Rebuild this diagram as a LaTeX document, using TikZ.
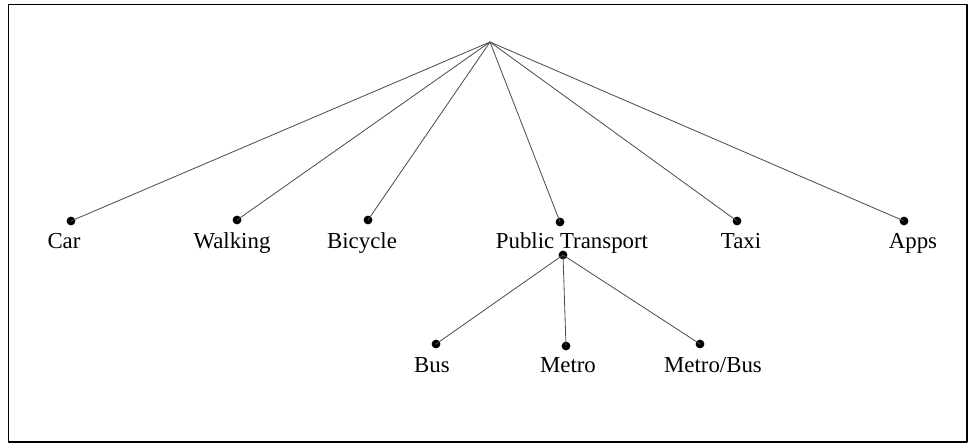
\documentclass[tikz,border=0pt]{standalone}
\usepackage{fontspec}
\setmainfont{Liberation Serif}

\begin{document}
\begin{tikzpicture}[x=0.03cm,y=-0.03cm,line join=round,line cap=round,
	dot/.style={circle,fill=black,inner sep=0pt,minimum size=7.5pt},
	lbl/.style={anchor=base,inner sep=0pt,font=\fontsize{19.5}{23}\selectfont},
	edge/.style={draw=black!70,line width=0.7pt}]
	\useasboundingbox (0,0) rectangle (968,444);
	\draw[line width=1.7pt] (8.5,4.5) rectangle (966.5,441.5);
	% root and first level
	\coordinate (root) at (490,42);
	\node[dot] (car) at (71,221) {};
	\node[dot] (walk) at (237,220) {};
	\node[dot] (bike) at (368,220) {};
	\node[dot] (pt) at (560,222) {};
	\node[dot] (taxi) at (737,221) {};
	\node[dot] (apps) at (904,221) {};
	\node[lbl] (carl) at (64,248) {Car};
	\node[lbl] (walkl) at (232,248) {Walking};
	\node[lbl] (bikel) at (362,248) {Bicycle};
	\node[lbl] (ptl) at (572,248) {Public Transport};
	\node[lbl] (taxil) at (741,248) {Taxi};
	\node[lbl] (appsl) at (913,248) {Apps};
	\foreach \n in {car,walk,bike,pt,taxi,apps}
		\draw[edge] (root)--(\n.center);
	% second level
	\node[dot] (ptsub) at (563,255) {};
	\node[dot] (bus) at (436,344) {};
	\node[dot] (metro) at (566,346) {};
	\node[dot] (mbus) at (700,344) {};
	\node[lbl] (busl) at (432,372) {Bus};
	\node[lbl] (metrol) at (568,372) {Metro};
	\node[lbl] (mbusl) at (713,372) {Metro/Bus};
	\foreach \n in {bus,metro,mbus}
		\draw[edge] (ptsub.center)--(\n.center);
\end{tikzpicture}
\end{document}
